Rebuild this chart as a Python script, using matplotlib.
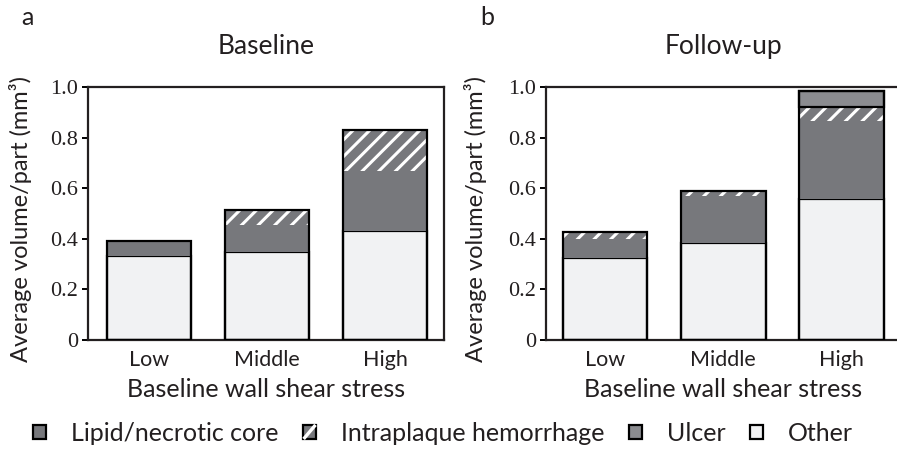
import matplotlib
matplotlib.use("Agg")
import matplotlib.pyplot as plt
import numpy as np
from matplotlib.patches import Patch, Rectangle
from matplotlib.lines import Line2D
from matplotlib.legend_handler import HandlerBase

# average component volume per part (mm^3), by baseline WSS tertile
categories = ["Low", "Middle", "High"]

baseline_other = [0.330, 0.346, 0.432]
baseline_lipid = [0.061, 0.110, 0.237]
baseline_hemorrhage = [0.000, 0.058, 0.161]
baseline_ulcer = [0.000, 0.000, 0.000]

followup_other = [0.325, 0.382, 0.556]
followup_lipid = [0.073, 0.187, 0.311]
followup_hemorrhage = [0.030, 0.019, 0.053]
followup_ulcer = [0.000, 0.000, 0.066]

yticks = [0, 0.2, 0.4, 0.6, 0.8, 1.0]
ytick_labels = ["0", "0.2", "0.4", "0.6", "0.8", "1.0"]

text_color = "#231f20"
lipid_color = "#77787c"
ulcer_color = "#8b8c90"
other_color = "#f1f2f3"

plt.rcParams["font.family"] = ["Lato", "DejaVu Sans"]
plt.rcParams["hatch.linewidth"] = 2.2
plt.rcParams["text.color"] = text_color

sans = ["Lato", "DejaVu Sans"]
serif = ["Liberation Serif", "DejaVu Serif"]

fig = plt.figure(figsize=(8.97, 4.49), dpi=100)
ax_a = fig.add_axes([0.0981, 0.2428, 0.3969, 0.5635])
ax_b = fig.add_axes([0.6084, 0.2428, 0.3958, 0.5635])

width = 0.715
lw = 1.6


def draw_panel(ax, other, lipid, hemorrhage, ulcer, title, xlim):
    x = np.arange(len(categories))
    other = np.array(other)
    lipid = np.array(lipid)
    hemorrhage = np.array(hemorrhage)
    ulcer = np.array(ulcer)

    ax.bar(x, other, width, color=other_color, edgecolor="black", linewidth=lw, zorder=2)
    ax.bar(x, lipid, width, bottom=other, color=lipid_color, linewidth=0, zorder=2)
    ax.bar(x, hemorrhage, width, bottom=other + lipid, color=lipid_color,
           edgecolor="white", linewidth=0, hatch="//", zorder=2)
    base = other + lipid + hemorrhage
    has_ulcer = ulcer > 0
    ax.bar(x[has_ulcer], ulcer[has_ulcer], width, bottom=base[has_ulcer],
           color=ulcer_color, edgecolor="black", linewidth=lw, zorder=2)
    # outline of the whole stack
    ax.bar(x, base + ulcer, width, fill=False, edgecolor="black", linewidth=lw, zorder=3)

    ax.set_xlim(*xlim)
    ax.set_ylim(0, 1.0)
    ax.set_xticks(x)
    ax.set_xticklabels(categories, family=sans, fontsize=15.5, color=text_color)
    ax.tick_params(axis="x", length=0, pad=7)
    ax.set_yticks(yticks)
    ax.set_yticklabels(ytick_labels, family=serif, fontsize=16, color=text_color)
    ax.tick_params(axis="y", length=4, width=1.4, pad=3, direction="out")
    for s in ax.spines.values():
        s.set_linewidth(1.6)
        s.set_color(text_color)
    ax.set_xlabel("Baseline wall shear stress", fontsize=18, color=text_color, labelpad=6)
    ax.set_ylabel("Average volume/part (mm³)", fontsize=17, color=text_color)
    ax.set_title(title, fontsize=19, color=text_color, pad=24)


draw_panel(ax_a, baseline_other, baseline_lipid, baseline_hemorrhage, baseline_ulcer,
           "Baseline", (-0.52, 2.5))
draw_panel(ax_b, followup_other, followup_lipid, followup_hemorrhage, followup_ulcer,
           "Follow-up", (-0.5, 2.5))
ax_a.yaxis.set_label_coords(-0.157, 0.478)
ax_b.yaxis.set_label_coords(-0.165, 0.478)

fig.text(0.024, 0.945, "a", fontsize=18)
fig.text(0.535, 0.945, "b", fontsize=18)


class StripeHandler(HandlerBase):
    # grey square with a single white diagonal stripe
    def create_artists(self, legend, orig_handle, xdescent, ydescent, width, height,
                       fontsize, trans):
        x0, y0 = -xdescent, -ydescent
        box = Rectangle((x0, y0), width, height, facecolor=lipid_color,
                        edgecolor="black", linewidth=1.6, transform=trans)
        stripe = Line2D([x0 + 1, x0 + width - 1], [y0 + 1, y0 + height - 1],
                        color="white", linewidth=2.4, transform=trans)
        return [box, stripe]


hemorrhage_handle = Patch(facecolor=lipid_color, label="Intraplaque hemorrhage")
handles = [
    Patch(facecolor=lipid_color, edgecolor="black", linewidth=1.6, label="Lipid/necrotic core"),
    hemorrhage_handle,
    Patch(facecolor=ulcer_color, edgecolor="black", linewidth=1.6, label="Ulcer"),
    Patch(facecolor=other_color, edgecolor="black", linewidth=1.6, label="Other"),
]
fig.legend(handles=handles, loc="center", bbox_to_anchor=(0.494, 0.035), ncol=4,
           frameon=False, fontsize=18, handlelength=0.5, handleheight=0.5,
           handletextpad=1.0, columnspacing=1.0, borderpad=0,
           handler_map={hemorrhage_handle: StripeHandler()})

fig.savefig("out.png", dpi=100)
